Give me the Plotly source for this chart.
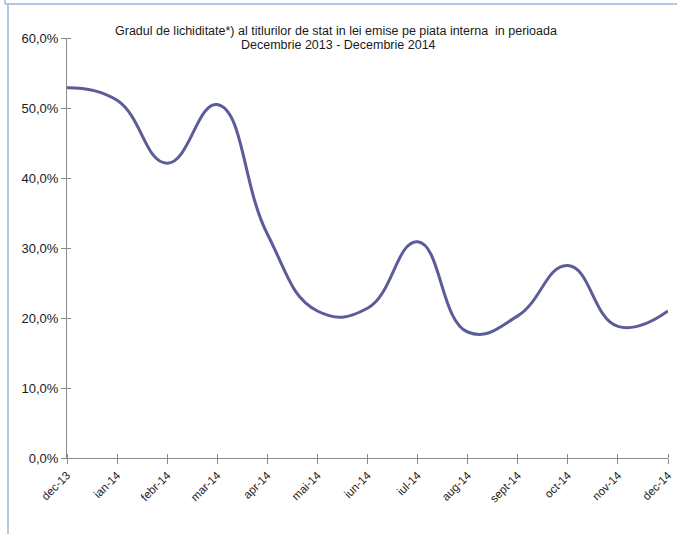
import plotly.graph_objects as go

# Gradul de lichiditate (%)
luni = ['dec-13', 'ian-14', 'febr-14', 'mar-14', 'apr-14', 'mai-14', 'iun-14',
        'iul-14', 'aug-14', 'sept-14', 'oct-14', 'nov-14', 'dec-14']
lichiditate = [52.9, 51.1, 42.1, 50.5, 32.0, 21.0, 21.4, 30.9, 18.0, 20.3, 27.5, 18.8, 21.0]
y_ticks = [0, 10, 20, 30, 40, 50, 60]
y_etichete = ['0,0%', '10,0%', '20,0%', '30,0%', '40,0%', '50,0%', '60,0%']

titlu_1 = 'Gradul de lichiditate*) al titlurilor de stat in lei emise pe piata interna  in perioada'
titlu_2 = 'Decembrie 2013 - Decembrie 2014'

W, H = 677, 534
L, R, T, B = 67, 9, 38, 76
pw, ph = W - L - R, H - T - B

def px_x(x):
    return (x - L) / pw

def px_y(y):
    return (H - B - y) / ph

fig = go.Figure()
fig.add_trace(go.Scatter(
    x=list(range(len(luni))),
    y=lichiditate,
    mode='lines',
    line=dict(color='#5C5C99', width=3, shape='spline', smoothing=1.3),
    hoverinfo='skip',
    showlegend=False,
))

axa = '#8C8C8C'
pozitii_x = list(range(len(luni)))
fig.update_layout(
    width=W, height=H,
    margin=dict(l=L, r=R, t=T, b=B),
    paper_bgcolor='white', plot_bgcolor='white',
    font=dict(family='Liberation Sans, Arial, sans-serif', size=12, color='#1a1a1a'),
    xaxis=dict(
        range=[0, len(luni) - 1],
        tickvals=pozitii_x,
        ticktext=luni,
        tickangle=-45,
        ticks='outside', ticklen=5, tickcolor=axa, tickwidth=1,
        # liniute si in interior, ca in Excel (tip "cross")
        minor=dict(tickvals=pozitii_x, ticks='inside', ticklen=4, tickcolor=axa, tickwidth=1),
        showline=True, linecolor=axa, linewidth=1,
        showgrid=False, zeroline=False, automargin=False,
        tickfont=dict(size=11.5),
    ),
    yaxis=dict(
        range=[0, 60],
        tickvals=y_ticks,
        ticktext=y_etichete,
        ticks='outside', ticklen=5, tickcolor=axa, tickwidth=1,
        minor=dict(tickvals=y_ticks, ticks='inside', ticklen=4, tickcolor=axa, tickwidth=1),
        showline=True, linecolor=axa, linewidth=1,
        showgrid=False, zeroline=False, automargin=False,
        tickfont=dict(size=13),
    ),
)

fig.add_annotation(text=titlu_1, xref='paper', yref='paper', x=px_x(336), y=px_y(31),
                   showarrow=False, xanchor='center', yanchor='middle', font=dict(size=12.5))
fig.add_annotation(text=titlu_2, xref='paper', yref='paper', x=px_x(338), y=px_y(45),
                   showarrow=False, xanchor='center', yanchor='middle', font=dict(size=12.5))

# chenarul albastru din stanga-sus
chenar = '#9DB5DC'
fig.add_shape(type='line', xref='paper', yref='paper', x0=px_x(8), x1=px_x(8),
              y0=px_y(4), y1=px_y(534), line=dict(color=chenar, width=1.5))
fig.add_shape(type='line', xref='paper', yref='paper', x0=px_x(5), x1=px_x(677),
              y0=px_y(4), y1=px_y(4), line=dict(color=chenar, width=1.5))
fig.add_shape(type='line', xref='paper', yref='paper', x0=px_x(5), x1=px_x(5),
              y0=px_y(0), y1=px_y(4), line=dict(color=chenar, width=1.5))

# fara marginea implicita a paginii, ca graficul sa inceapa din coltul (0, 0)
fig.write_html('out.html', config={'displayModeBar': False},
               post_script="document.body.style.margin='0';")
